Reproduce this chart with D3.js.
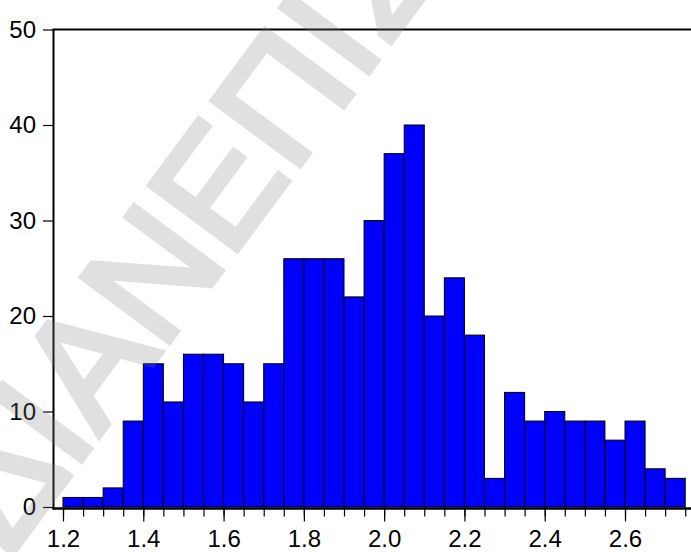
<!DOCTYPE html>
<html>
<head>
<meta charset="utf-8">
<script src="https://cdn.jsdelivr.net/npm/d3@7"></script>
<style>
  body { margin: 0; background: #fff; }
  svg { display: block; }
  .axis text { font-family: "Liberation Sans", Arial, sans-serif; font-size: 24px; fill: #000; }
</style>
</head>
<body>
<script>
// histogram bins (left edge, width 0.05) and counts
var binStarts = [1.20, 1.25, 1.30, 1.35, 1.40, 1.45, 1.50, 1.55, 1.60, 1.65,
                 1.70, 1.75, 1.80, 1.85, 1.90, 1.95, 2.00, 2.05, 2.10, 2.15,
                 2.20, 2.25, 2.30, 2.35, 2.40, 2.45, 2.50, 2.55, 2.60, 2.65, 2.70];
var counts = [1, 1, 2, 9, 15, 11, 16, 16, 15, 11,
              15, 26, 26, 26, 22, 30, 37, 40, 20, 24,
              18, 3, 12, 9, 10, 9, 9, 7, 9, 4, 3];
var binWidth = 0.05;
var xMajor = [1.2, 1.4, 1.6, 1.8, 2.0, 2.2, 2.4, 2.6];
var yTicks = [0, 10, 20, 30, 40, 50];
var watermark = "ΔΙΑΝΕΠΙΣΤΗΜΙΑΚΟ";

var data = binStarts.map(function(d, i) { return {x0: d, x1: d + binWidth, n: counts[i]}; });

var W = 691, H = 552;
var svg = d3.select("body").append("svg")
    .attr("width", W)
    .attr("height", H);

// x: 1.2 -> 63px, 0.2 per ~80px
var x = d3.scaleLinear().domain([1.2, 2.6]).range([63, 625]);
var y = d3.scaleLinear().domain([0, 50]).range([507, 29.5]);

// bars
svg.append("g").selectAll("rect")
    .data(data)
    .enter().append("rect")
    .attr("x", function(d) { return x(d.x0); })
    .attr("width", function(d) { return x(d.x1) - x(d.x0); })
    .attr("y", function(d) { return y(d.n); })
    .attr("height", function(d) { return y(0) - y(d.n); })
    .attr("fill", "#0000ff")
    .attr("stroke", "#000")
    .attr("stroke-width", 1);

// frame lines: left, top
var left = 53.5, axisY = 508.5;
svg.append("line")
    .attr("x1", left).attr("x2", left)
    .attr("y1", y(50)).attr("y2", axisY + 1)
    .attr("stroke", "#000").attr("stroke-width", 2);
svg.append("line")
    .attr("x1", left - 1).attr("x2", W)
    .attr("y1", y(50)).attr("y2", y(50))
    .attr("stroke", "#000").attr("stroke-width", 2);

// y axis
var yAxis = svg.append("g")
    .attr("class", "axis")
    .attr("transform", "translate(" + (left - 0.5) + ",0)")
    .call(d3.axisLeft(y).tickValues(yTicks).tickSize(10).tickPadding(7).tickSizeOuter(0));
yAxis.select(".domain").remove();
yAxis.selectAll(".tick line").attr("stroke", "#000").attr("stroke-width", 1.2);

// x axis: minor ticks every bin edge, major ticks with labels
var minor = binStarts.concat([2.75]);
var xMinor = svg.append("g")
    .attr("transform", "translate(0," + axisY + ")")
    .call(d3.axisBottom(x).tickValues(minor).tickSize(8).tickFormat(""));
xMinor.select(".domain").remove();
xMinor.selectAll(".tick line").attr("stroke", "#000").attr("stroke-width", 1.2);

var xAxis = svg.append("g")
    .attr("class", "axis")
    .attr("transform", "translate(0," + axisY + ")")
    .call(d3.axisBottom(x).tickValues(xMajor).tickSize(13).tickPadding(8)
        .tickFormat(d3.format(".1f")));
xAxis.select(".domain").remove();
xAxis.selectAll(".tick line").attr("stroke", "#000").attr("stroke-width", 1.2);

svg.append("line")
    .attr("x1", left - 1).attr("x2", W)
    .attr("y1", axisY).attr("y2", axisY)
    .attr("stroke", "#000").attr("stroke-width", 2.5);

// faint diagonal watermark over everything
svg.append("g")
    .attr("opacity", 0.24)
    .append("text")
    .attr("transform", "translate(10,557) rotate(-53.5)")
    .attr("font-family", "Liberation Sans, Arial, sans-serif")
    .attr("font-size", 158)
    .attr("fill", "#808080")
    .attr("stroke", "#808080")
    .attr("stroke-width", 6)
    .attr("stroke-linejoin", "miter")
    .text(watermark);
</script>
</body>
</html>
